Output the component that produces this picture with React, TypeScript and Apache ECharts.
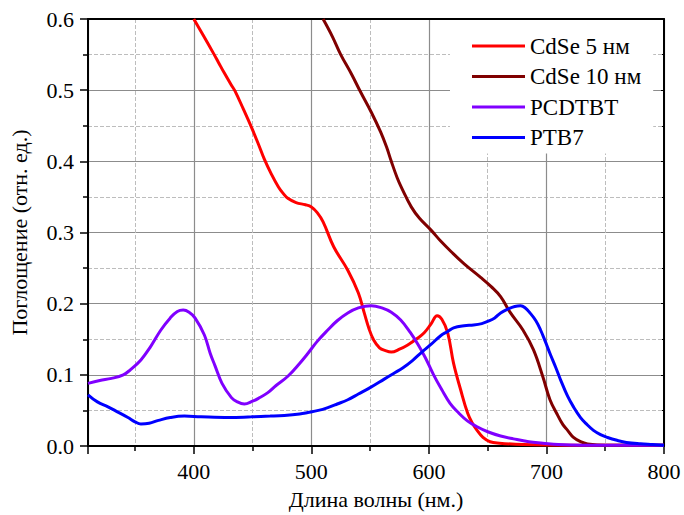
import React, { useEffect, useRef } from "react";
import * as echarts from "echarts";

const seriesNames = ["CdSe 5 нм", "CdSe 10 нм", "PCDTBT", "PTB7"];
const seriesColors = ["#ff0000", "#800000", "#8000ff", "#0000ff"];

const cdse5X = [400, 408, 417, 421, 426, 432, 435, 442, 449, 455, 460, 466, 472, 476, 480, 487, 495, 500, 505, 510, 519, 531, 540, 545, 549, 553, 558, 563, 568, 575, 582, 590, 596, 602, 607, 611, 616, 621, 627, 633, 637, 641, 646, 652, 660, 680, 720, 800];
const cdse5Y = [0.6, 0.577, 0.551, 0.539, 0.524, 0.507, 0.499, 0.474, 0.448, 0.424, 0.403, 0.382, 0.364, 0.355, 0.348, 0.342, 0.339, 0.336, 0.328, 0.315, 0.28, 0.247, 0.215, 0.187, 0.165, 0.149, 0.138, 0.134, 0.132, 0.136, 0.142, 0.151, 0.159, 0.172, 0.183, 0.178, 0.159, 0.116, 0.079, 0.046, 0.032, 0.022, 0.012, 0.006, 0.004, 0.002, 0.001, 0.001];

const cdse10X = [510, 518, 525, 534, 542, 551, 559, 564, 568, 573, 577, 585, 592, 602, 610, 619, 630, 644, 653, 661, 669, 680, 689, 697, 703, 709, 714, 718, 723, 729, 735, 750, 800];
const cdse10Y = [0.6, 0.575, 0.55, 0.523, 0.497, 0.469, 0.441, 0.42, 0.4, 0.377, 0.362, 0.336, 0.32, 0.303, 0.288, 0.273, 0.256, 0.237, 0.224, 0.21, 0.188, 0.163, 0.135, 0.097, 0.065, 0.045, 0.03, 0.022, 0.012, 0.006, 0.003, 0.001, 0.001];

const pcdtbtX = [310, 320, 330, 340, 346, 355, 363, 372, 380, 386, 391, 396, 401, 409, 414, 418, 424, 432, 437, 443, 450, 455, 463, 470, 480, 490, 497, 505, 514, 522, 531, 540, 551, 560, 568, 576, 584, 591, 597, 604, 611, 618, 625, 633, 641, 650, 661, 672, 685, 697, 710, 730, 800];
const pcdtbtY = [0.088, 0.092, 0.095, 0.1, 0.107, 0.121, 0.139, 0.163, 0.18, 0.189, 0.191, 0.188, 0.18, 0.156, 0.13, 0.113, 0.088, 0.068, 0.062, 0.059, 0.063, 0.067, 0.075, 0.085, 0.098, 0.116, 0.13, 0.147, 0.163, 0.176, 0.187, 0.194, 0.197, 0.194, 0.188, 0.177, 0.16, 0.142, 0.124, 0.1, 0.079, 0.06, 0.047, 0.035, 0.027, 0.02, 0.014, 0.01, 0.006, 0.004, 0.002, 0.001, 0.001];

const ptb7X = [310, 318, 327, 335, 344, 350, 355, 362, 370, 380, 392, 406, 430, 449, 465, 477, 490, 497, 506, 514, 522, 531, 540, 550, 562, 570, 578, 586, 594, 602, 610, 616, 621, 630, 638, 645, 650, 656, 661, 668, 673, 678, 682, 686, 691, 695, 699, 703, 708, 712, 718, 723, 729, 734, 740, 746, 752, 760, 768, 780, 790, 800];
const ptb7Y = [0.072, 0.062, 0.055, 0.048, 0.04, 0.034, 0.031, 0.032, 0.036, 0.04, 0.042, 0.041, 0.04, 0.041, 0.042, 0.043, 0.045, 0.047, 0.05, 0.054, 0.059, 0.065, 0.073, 0.082, 0.094, 0.102, 0.11, 0.12, 0.132, 0.143, 0.155, 0.161, 0.166, 0.169, 0.17, 0.172, 0.175, 0.18, 0.187, 0.193, 0.196, 0.197, 0.194, 0.187, 0.176, 0.163, 0.147, 0.13, 0.11, 0.093, 0.07, 0.055, 0.04, 0.031, 0.022, 0.016, 0.012, 0.008, 0.005, 0.003, 0.002, 0.001];

const xTitle = "Длина волны (нм.)";
const yTitle = "Поглощение (отн. ед.)";
const xMin = 310;
const xMax = 800;
const yMin = 0;
const yMax = 0.6;

const FONT = "Liberation Serif";

function zip(xs: number[], ys: number[]) {
  return xs.map((x, i) => [x, ys[i]]);
}

export default function App() {
  const ref = useRef<HTMLDivElement>(null);
  useEffect(() => {
    if (!ref.current) return;
    const chart = echarts.init(ref.current, null, { renderer: "svg" });
    const allX = [cdse5X, cdse10X, pcdtbtX, ptb7X];
    const allY = [cdse5Y, cdse10Y, pcdtbtY, ptb7Y];
    const majorSplit = { show: true, lineStyle: { color: "#8c8c8c", width: 1.2, type: "solid" as const } };
    const minorSplit = { show: true, lineStyle: { color: "#bdbdbd", width: 1, type: "dashed" as const } };
    chart.setOption({
      animation: false,
      backgroundColor: "#ffffff",
      textStyle: { fontFamily: FONT },
      grid: { left: 86, right: 20, top: 19, bottom: 69 },
      legend: {
        orient: "vertical",
        left: 450,
        top: 20,
        padding: [14, 12, 4, 22],
        backgroundColor: "#ffffff",
        icon: "rect",
        itemWidth: 53,
        itemHeight: 3,
        itemGap: 6.5,
        textStyle: { fontFamily: FONT, fontSize: 23, color: "#000", lineHeight: 24 },
        data: seriesNames,
      },
      xAxis: [
        {
          type: "value",
          min: xMin,
          max: xMax,
          minInterval: 100,
          maxInterval: 100,
          name: xTitle,
          nameLocation: "middle",
          nameGap: 42,
          nameTextStyle: { fontFamily: FONT, fontSize: 22, color: "#000" },
          axisLine: { show: true, onZero: false, lineStyle: { color: "#000", width: 2 } },
          axisTick: { show: true, inside: false, length: 8, lineStyle: { color: "#000", width: 1.5 } },
          minorTick: { show: true, splitNumber: 2, length: 5, lineStyle: { color: "#000", width: 1.5 } },
          axisLabel: { showMinLabel: false, fontFamily: FONT, fontSize: 22, color: "#000", margin: 14 },
          splitLine: majorSplit,
          minorSplitLine: minorSplit,
        },
        {
          type: "value",
          position: "top",
          min: xMin,
          max: xMax,
          minInterval: 100,
          maxInterval: 100,
          axisLine: { show: true, onZero: false, lineStyle: { color: "#000", width: 2 } },
          axisTick: { show: false },
          axisLabel: { show: false },
          splitLine: { show: false },
        },
      ],
      yAxis: [
        {
          type: "value",
          min: yMin,
          max: yMax,
          interval: 0.1,
          name: yTitle,
          nameLocation: "middle",
          nameGap: 58,
          nameTextStyle: { fontFamily: FONT, fontSize: 22, color: "#000" },
          axisLine: { show: true, onZero: false, lineStyle: { color: "#000", width: 2 } },
          axisTick: { show: true, inside: false, length: 8, lineStyle: { color: "#000", width: 1.5 } },
          minorTick: { show: true, splitNumber: 2, length: 5, lineStyle: { color: "#000", width: 1.5 } },
          axisLabel: { fontFamily: FONT, fontSize: 22, color: "#000", margin: 14, formatter: (v: number) => v.toFixed(1) },
          splitLine: majorSplit,
          minorSplitLine: minorSplit,
        },
        {
          type: "value",
          position: "right",
          min: yMin,
          max: yMax,
          interval: 0.1,
          axisLine: { show: true, onZero: false, lineStyle: { color: "#000", width: 2 } },
          axisTick: { show: true, inside: true, length: 3, lineStyle: { color: "#000", width: 1 } },
          minorTick: { show: true, splitNumber: 2, length: 2, lineStyle: { color: "#000", width: 1 } },
          axisLabel: { show: false },
          splitLine: { show: false },
        },
      ],
      series: seriesNames.map((name, i) => ({
        name,
        type: "line",
        xAxisIndex: 0,
        yAxisIndex: 0,
        data: zip(allX[i], allY[i]),
        smooth: 0.4,
        symbol: "none",
        showSymbol: false,
        clip: true,
        color: seriesColors[i],
        itemStyle: { color: seriesColors[i] },
        lineStyle: { color: seriesColors[i], width: 3 },
        z: 3,
      })),
    });
    return () => chart.dispose();
  }, []);
  return <div ref={ref} style={{ position: "absolute", left: 0, top: 0, width: 684, height: 515 }} />;
}
